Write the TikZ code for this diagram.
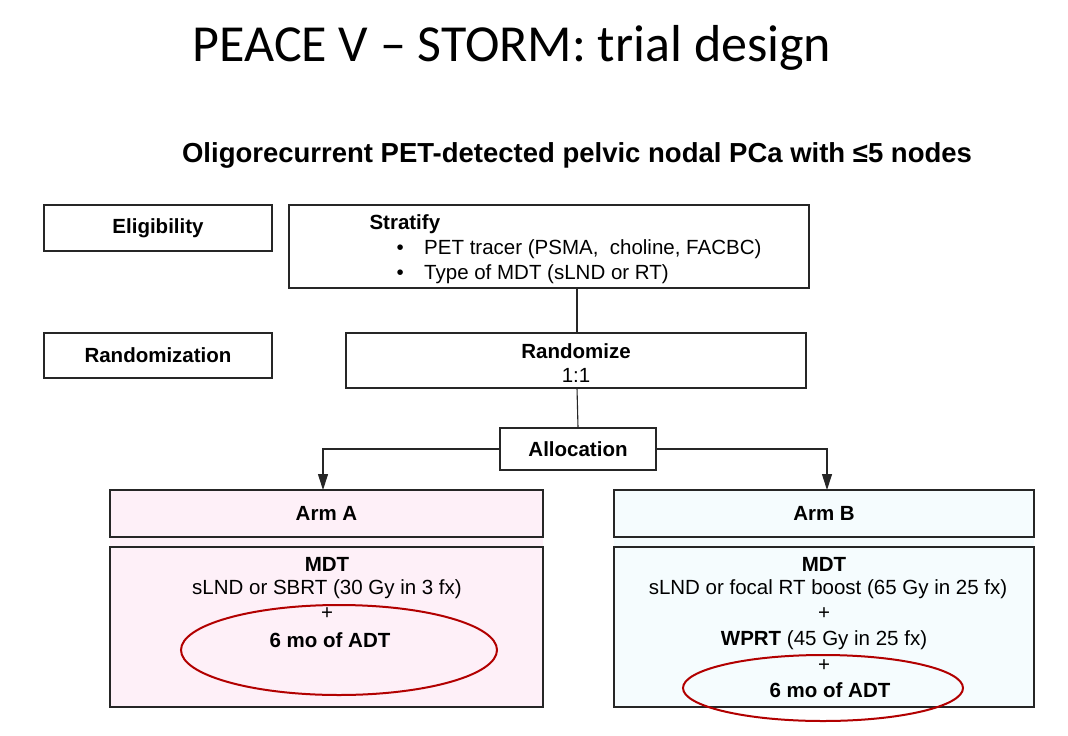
\documentclass[tikz,border=0pt]{standalone}
\usepackage{fontspec}
\setmainfont{Liberation Sans}
\newfontfamily\titlefont{Carlito}
\usetikzlibrary{arrows.meta}
\begin{document}
\begin{tikzpicture}[x=1pt,y=-1pt,
  box/.style={draw=black!85,line width=1.2pt,inner sep=0pt},
  lbl/.style={font=\fontsize{20.5}{24}\selectfont\bfseries},
  txt/.style={font=\fontsize{20.5}{24}\selectfont},
  conn/.style={draw=black!85,line width=1.1pt},
  arr/.style={conn,-{Triangle[length=16pt,width=10pt]}},
  ring/.style={draw=red!70!black,line width=2pt}]
\useasboundingbox[fill=white] (0,0) rectangle (1068,736);
\node[font=\fontsize{52}{56}\selectfont\titlefont] (title) at (512,48) {PEACE V – STORM: trial design};
\node[font=\fontsize{27.5}{31}\selectfont\bfseries] (sub) at (577,155) {Oligorecurrent PET-detected pelvic nodal PCa with \symbol{"2264}5 nodes};
\draw[box] (44,205) rectangle (272,251) node[midway,lbl] (elig) {Eligibility};
\draw[box] (289,205) rectangle (809,288);
\node[lbl,anchor=west] (strat) at (366,224) {Stratify};
\node[txt,anchor=west] (s1) at (393,249) {\textbullet\quad PET tracer (PSMA,\ \ choline, FACBC)};
\node[txt,anchor=west] (s2) at (393,274) {\textbullet\quad Type of MDT (sLND or RT)};
\draw[box] (44,333) rectangle (272,378) node[midway,lbl] (rand) {Randomization};
\draw[box] (346,333) rectangle (806,388);
\node[lbl] (rz) at (576,351) {Randomize};
\node[txt] (r11) at (576,375) {1:1};
\node[box,minimum width=156pt,minimum height=42pt,lbl] (alloc) at (578,449) {Allocation};
\coordinate (sb) at (577,288); \coordinate (rt) at (577,333);
\coordinate (rb) at (577,388);
\draw[conn] (sb) -- (rt);
\draw[conn] (rb) -- (alloc.north);
\coordinate (ta) at (323,490); \coordinate (tb) at (827,490);
\draw[arr] (alloc.west) -| (ta);
\draw[arr] (alloc.east) -| (tb);
\fill[magenta!6] (110,490) rectangle (543,707);
\fill[cyan!4] (614,490) rectangle (1034,707);
\draw[box] (110,490) rectangle (543,537) node[midway,lbl] (aa) {Arm A};
\draw[box] (110,547) rectangle (543,707);
\draw[box] (614,490) rectangle (1034,537) node[midway,lbl] (ab) {Arm B};
\draw[box] (614,547) rectangle (1034,707);
\node[lbl] (amdt) at (327,564) {MDT};
\node[txt] (a1) at (327,589) {sLND or SBRT (30 Gy in 3 fx)};
\node[txt] (ap) at (327,614) {+};
\node[lbl] (a2) at (330,640) {6 mo of ADT};
\node[lbl] (bmdt) at (824,564) {MDT};
\node[txt] (b1) at (828,589) {sLND or focal RT boost (65 Gy in 25 fx)};
\node[txt] (bp) at (824,614) {+};
\node[txt] (b2) at (824,640) {\textbf{WPRT} (45 Gy in 25 fx)};
\node[txt] (bp2) at (824,666) {+};
\node[lbl] (b3) at (830,690) {6 mo of ADT};
\draw[ring] (339,650) ellipse [x radius=158,y radius=45];
\draw[ring] (823,688) ellipse [x radius=140,y radius=33];
\end{tikzpicture}
\end{document}
